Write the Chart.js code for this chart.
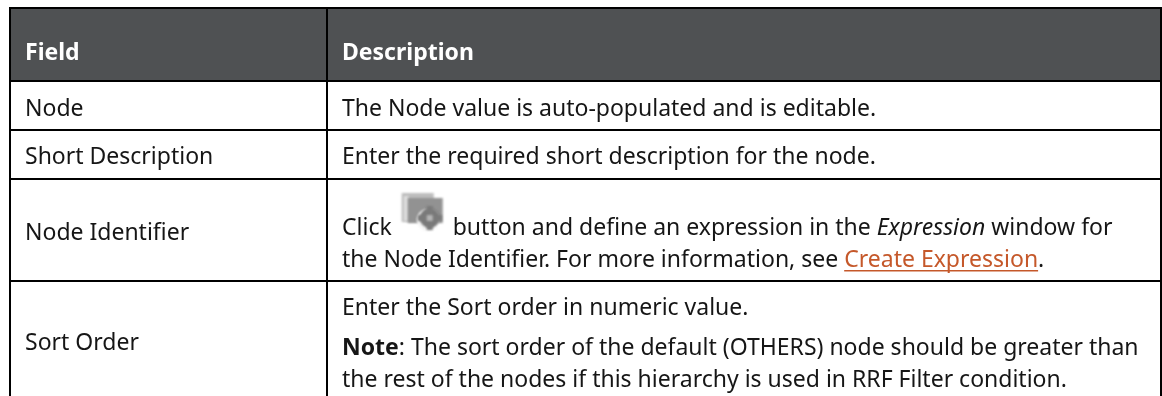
<!DOCTYPE html>
<html><head><meta charset="utf-8">
<script src="https://cdn.jsdelivr.net/npm/chart.js@4"></script>
<style>html,body{margin:0;padding:0;background:#fff}canvas{display:block}</style>
</head><body><canvas id="c" width="1162" height="396"></canvas>
<script>
const headers = ["Field", "Description"];
const fields = ["Node", "Short Description", "Node Identifier", "Sort Order"];
const descNode = [["The Node value is auto-populated and is editable."]];
const descShort = [["Enter the required short description for the node."]];
const descIdentifier = [
  [["Click"], ["ICON"], ["button and define an expression in the "], ["Expression", "i"], [" window for"]],
  [["the Node Identifier. For more information, see "], ["Create Expression", "l"], ["."]]
];
const descSort = [
  [["Enter the Sort order in numeric value."]],
  [["Note", "b"], [": The sort order of the default (OTHERS) node should be greater than"]],
  [["the rest of the nodes if this hierarchy is used in RRF Filter condition."]]
];

const FAMILY = '"Noto Sans"';
const SIZE = 23;
const INK = '#161616', LINK = '#c5582a', HEAD = '#4f5153';
const H = [8, 81, 130, 179, 281];
const V = [10, 327, 1161];
const COL1 = 25, COL2 = 342;

function font(style){
  return (style === 'b' ? '700 ' : style === 'i' ? 'italic ' : '') + SIZE + 'px ' + FAMILY;
}
function drawIcon(ctx, x, y){
  ctx.save();
  ctx.filter = 'blur(0.8px)';
  ctx.fillStyle = '#bdbdbd'; ctx.fillRect(x, y, 32, 29);
  ctx.fillStyle = '#dedede'; ctx.fillRect(x + 2, y + 3, 5, 25);
  ctx.fillStyle = '#929292'; ctx.fillRect(x + 6, y + 5, 35, 25);
  ctx.fillStyle = '#f6f6f6'; ctx.beginPath(); ctx.arc(x + 26, y + 27, 11, 0, Math.PI * 2); ctx.fill();
  ctx.fillStyle = '#7a7a7a'; ctx.beginPath(); ctx.arc(x + 28, y + 25, 10, 0, Math.PI * 2); ctx.fill();
  ctx.fillRect(x + 25, y + 13, 6, 24);
  ctx.fillRect(x + 16, y + 22, 24, 6);
  ctx.fillStyle = '#b4b4b4'; ctx.fillRect(x + 25, y + 22, 6, 6);
  ctx.restore();
}
function drawRuns(ctx, runs, x, y){
  ctx.textBaseline = 'alphabetic';
  for (const [t, s] of runs){
    if (t === 'ICON'){ drawIcon(ctx, x + 10, y - 42); x += 61; continue; }
    ctx.font = font(s);
    ctx.fillStyle = s === 'l' ? LINK : INK;
    ctx.fillText(t, x, y);
    const w = ctx.measureText(t).width;
    if (s === 'l'){ ctx.fillStyle = LINK; ctx.fillRect(x, y + 3, w, 1.5); }
    x += w;
  }
}
const tablePlugin = {
  id: 'table',
  afterDraw(chart){
    const ctx = chart.ctx;
    ctx.save();
    ctx.fillStyle = '#fff'; ctx.fillRect(0, 0, 1162, 396);
    ctx.fillStyle = HEAD; ctx.fillRect(V[0], H[0], V[2] - V[0], H[1] - H[0]);
    ctx.fillStyle = '#000';
    for (const y of H) ctx.fillRect(V[0] - 1, y - 1, V[2] - V[0] + 2, 2);
    for (const x of V) ctx.fillRect(x - 1, H[0] - 1, 2, 396);
    ctx.font = '700 ' + SIZE + 'px ' + FAMILY; ctx.fillStyle = '#fff';
    ctx.fillText(headers[0], COL1, 60);
    ctx.fillText(headers[1], COL2, 60);
    const ys = [116, 164, 240, 350];
    ctx.font = font(); ctx.fillStyle = INK;
    fields.forEach((f, i) => ctx.fillText(f, COL1, ys[i]));
    ctx.fillText(descNode[0][0], COL2, 116);
    ctx.fillText(descShort[0][0], COL2, 164);
    drawRuns(ctx, descIdentifier[0], COL2, 235);
    drawRuns(ctx, descIdentifier[1], COL2, 267);
    drawRuns(ctx, descSort[0], COL2, 315);
    drawRuns(ctx, descSort[1], COL2, 355);
    drawRuns(ctx, descSort[2], COL2, 387);
    ctx.restore();
  }
};
new Chart(document.getElementById('c'), {
  type: 'bar',
  data: { labels: fields, datasets: [] },
  options: {
    responsive: false, animation: false,
    layout: { padding: 0 },
    plugins: { legend: { display: false }, tooltip: { enabled: false } },
    scales: { x: { display: false }, y: { display: false } }
  },
  plugins: [tablePlugin]
});
</script></body></html>
